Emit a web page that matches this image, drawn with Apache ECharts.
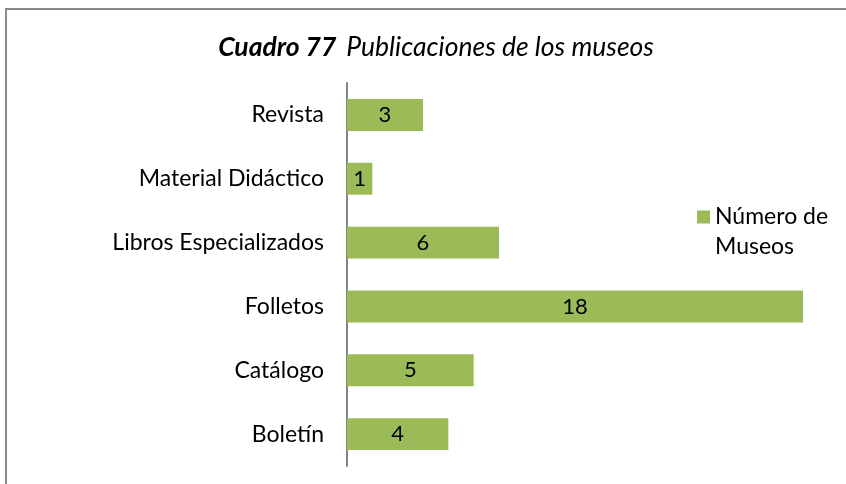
<!DOCTYPE html>
<html>
<head>
<meta charset="utf-8">
<script src="https://cdn.jsdelivr.net/npm/echarts@6/dist/echarts.min.js"></script>
<style>
  html, body { margin: 0; padding: 0; background: #fff; }
  #chart { width: 846px; height: 484px; }
</style>
</head>
<body>
<div id="chart"></div>
<script>
// Publications produced by museums (number of museums per type)
const categories = ['Boletín', 'Catálogo', 'Folletos', 'Libros Especializados', 'Material Didáctico', 'Revista'];
const museumCounts = [4, 5, 18, 6, 1, 3];
const seriesName = 'Número de\nMuseos';

const FONT = 'Lato, "Open Sans", sans-serif';
const chart = echarts.init(document.getElementById('chart'));

chart.setOption({
  backgroundColor: '#ffffff',
  animation: false,
  graphic: [{
    type: 'rect',
    shape: { x: 6, y: 9, width: 900, height: 600 },
    style: { fill: 'none', stroke: '#8a8a8a', lineWidth: 2 },
    silent: true
  }],
  title: {
    text: '{b|Cuadro 77}  {n|Publicaciones de los museos}',
    left: 431,
    textAlign: 'center',
    top: 29,
    textStyle: {
      rich: {
        b: { fontFamily: FONT, fontSize: 26.5, fontWeight: 'bold', fontStyle: 'italic', color: '#000' },
        n: { fontFamily: FONT, fontSize: 26.5, fontWeight: 'normal', fontStyle: 'italic', color: '#000' }
      }
    }
  },
  legend: {
    left: 697,
    top: 202,
    padding: 0,
    orient: 'vertical',
    // square swatch in the upper part of a tall box, so it sits beside the first text line
    icon: 'path://M0,0L13,0L13,13L0,13Z M0,43L0,43',
    itemWidth: 13,
    itemHeight: 43,
    itemGap: 6,
    textStyle: { fontFamily: FONT, fontSize: 23, color: '#000', lineHeight: 30 },
    data: [seriesName]
  },
  grid: { left: 347, top: 83, width: 456, height: 383, containLabel: false },
  xAxis: {
    type: 'value',
    min: 0,
    max: 18,
    show: false,
    splitLine: { show: false }
  },
  yAxis: {
    type: 'category',
    data: categories,
    axisLine: { show: true, lineStyle: { color: '#868686', width: 2 } },
    axisTick: { show: false },
    axisLabel: { fontFamily: FONT, fontSize: 23, color: '#000', margin: 23 }
  },
  series: [{
    name: seriesName,
    type: 'bar',
    data: museumCounts,
    barWidth: '50%',
    itemStyle: { color: '#9BBB59' },
    label: {
      show: true,
      position: 'inside',
      fontFamily: FONT,
      fontSize: 22,
      color: '#000'
    }
  }]
});
</script>
</body>
</html>
